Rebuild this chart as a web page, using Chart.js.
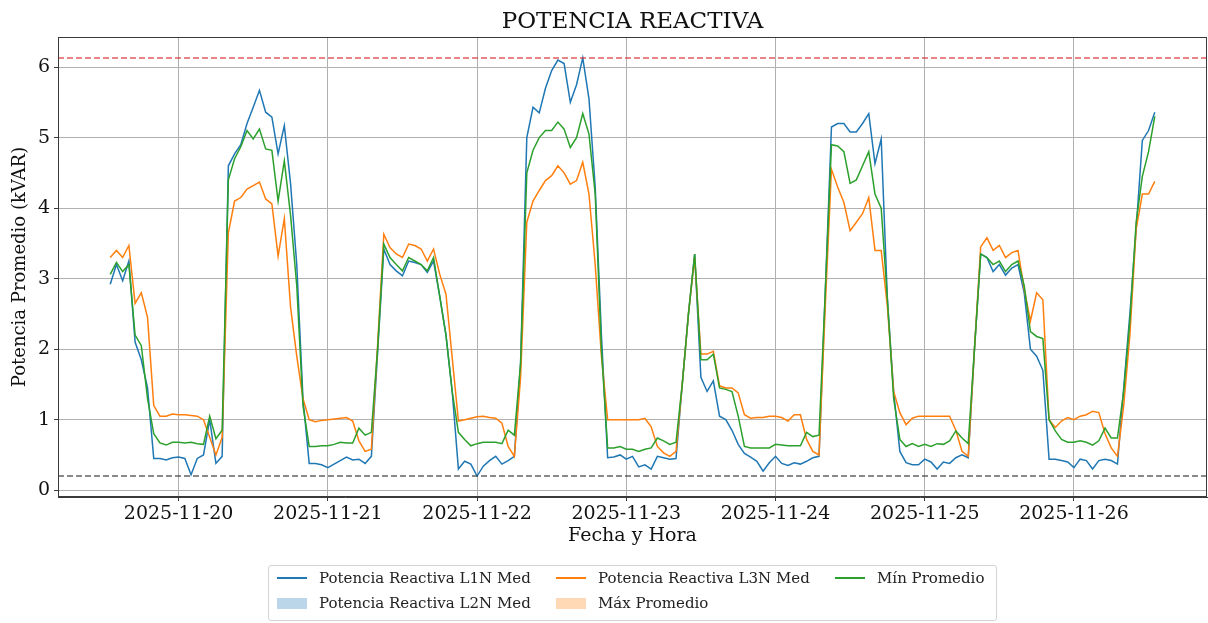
<!DOCTYPE html>
<html>
<head>
<meta charset="utf-8">
<title>Potencia reactiva</title>
<script src="https://cdn.jsdelivr.net/npm/chart.js@4.4.1/dist/chart.umd.min.js"></script>
<style>
  html, body { margin: 0; padding: 0; background: #fff; }
  #wrap { position: relative; width: 1208px; height: 623px; }
  #legend {
    position: absolute; left: 268px; top: 565px; width: 729px; height: 56px;
    border: 1px solid #d4d4d4; border-radius: 3px; box-sizing: border-box;
    font-family: 'DejaVu Serif', serif; font-size: 15px; color: #222;
  }
  .item { position: absolute; height: 16px; display: flex; align-items: center; white-space: nowrap; }
  .line { width: 30px; height: 1.6px; margin-right: 12px; }
  .patch { width: 30px; height: 11px; margin-right: 12px; }
</style>
</head>
<body>
<div id="wrap">
  <canvas id="chart" width="1208" height="623"></canvas>
  <div id="legend"></div>
</div>
<script>
// hourly readings, first one at 2025-11-19 13:00
const inicio = '2025-11-19T13:00';
const fechas = ['2025-11-20', '2025-11-21', '2025-11-22', '2025-11-23', '2025-11-24', '2025-11-25', '2025-11-26'];
const yTicks = [0, 1, 2, 3, 4, 5, 6];

const l1n = [
  2.92, 3.2, 2.97, 3.25, 2.1, 1.85, 1.45, 0.45, 0.45, 0.43, 0.46,
  0.47, 0.45, 0.22, 0.45, 0.5, 1.0, 0.38, 0.48, 4.6, 4.77,
  4.9, 5.2, 5.43, 5.67, 5.36, 5.29, 4.77, 5.17, 4.35, 3.2,
  1.3, 0.38, 0.38, 0.36, 0.32, 0.37, 0.42, 0.47, 0.43, 0.44,
  0.38, 0.48, 1.95, 3.42, 3.2, 3.11, 3.04, 3.25, 3.23, 3.2,
  3.09, 3.25, 2.75, 2.2, 1.4, 0.3, 0.41, 0.37, 0.2, 0.34,
  0.42, 0.48, 0.37, 0.42, 0.48, 1.8, 5.0, 5.43, 5.35, 5.7,
  5.95, 6.1, 6.05, 5.5, 5.75, 6.13, 5.55, 4.3, 2.2, 0.46,
  0.47, 0.5, 0.44, 0.48, 0.33, 0.36, 0.3, 0.48, 0.46, 0.44,
  0.45, 1.5, 2.5, 3.35, 1.6, 1.4, 1.55, 1.05, 1.0, 0.85,
  0.65, 0.52, 0.47, 0.41, 0.27, 0.39, 0.48, 0.38, 0.35, 0.39,
  0.37, 0.41, 0.46, 0.48, 2.8, 5.15, 5.2, 5.2, 5.08, 5.08,
  5.2, 5.34, 4.63, 4.98, 2.7, 1.4, 0.55, 0.39, 0.36, 0.36,
  0.44, 0.4, 0.3, 0.4, 0.38, 0.46, 0.5, 0.46, 2.0, 3.35,
  3.3, 3.1, 3.2, 3.05, 3.15, 3.2, 2.8, 2.0, 1.9, 1.7,
  0.44, 0.44, 0.42, 0.4, 0.32, 0.44, 0.42, 0.3, 0.42, 0.44,
  0.42, 0.37, 1.45, 2.5, 3.7, 4.96, 5.1, 5.36
];

const l3n = [
  3.3, 3.4, 3.3, 3.47, 2.65, 2.8, 2.45, 1.2, 1.05, 1.05, 1.08,
  1.07, 1.07, 1.06, 1.05, 1.0, 0.75, 0.5, 0.75, 3.65, 4.1,
  4.15, 4.27, 4.32, 4.37, 4.13, 4.06, 3.32, 3.85, 2.6, 1.9,
  1.3, 1.0, 0.97, 0.99, 1.0, 1.01, 1.02, 1.03, 0.98, 0.7,
  0.55, 0.58, 2.05, 3.63, 3.44, 3.35, 3.3, 3.49, 3.47, 3.42,
  3.25, 3.42, 3.06, 2.78, 1.88, 0.98, 1.0, 1.02, 1.04, 1.05,
  1.03, 1.02, 0.95, 0.62, 0.48, 1.6, 3.8, 4.1, 4.25, 4.39,
  4.46, 4.6, 4.5, 4.34, 4.39, 4.65, 4.2, 3.2, 1.9, 1.0,
  1.0, 1.0, 1.0, 1.0, 1.0, 1.02, 0.9, 0.62, 0.53, 0.48,
  0.55, 1.5, 2.5, 3.3, 1.93, 1.93, 1.97, 1.48, 1.45, 1.45,
  1.38, 1.07, 1.02, 1.03, 1.03, 1.05, 1.05, 1.03, 0.98, 1.07,
  1.07, 0.72, 0.55, 0.5, 2.6, 4.55, 4.3, 4.08, 3.68, 3.8,
  3.92, 4.15, 3.4, 3.4, 2.6, 1.4, 1.1, 0.93, 1.02, 1.05,
  1.05, 1.05, 1.05, 1.05, 1.05, 0.85, 0.55, 0.48, 2.0, 3.45,
  3.58, 3.4, 3.47, 3.3, 3.37, 3.4, 2.85, 2.4, 2.8, 2.7,
  1.0, 0.89, 0.98, 1.03, 1.0, 1.05, 1.07, 1.12, 1.1, 0.8,
  0.6, 0.48, 1.2, 2.2, 3.7, 4.2, 4.2, 4.38
];

const minProm = [
  3.06, 3.23, 3.1, 3.2, 2.2, 2.05, 1.3, 0.8, 0.67, 0.64, 0.68,
  0.68, 0.67, 0.68, 0.66, 0.65, 1.05, 0.73, 0.85, 4.4, 4.7,
  4.87, 5.1, 4.98, 5.12, 4.84, 4.82, 4.1, 4.67, 3.9, 2.9,
  1.2, 0.62, 0.62, 0.63, 0.63, 0.65, 0.68, 0.67, 0.67, 0.88,
  0.78, 0.82, 2.0, 3.49, 3.3, 3.2, 3.11, 3.3, 3.25, 3.2,
  3.11, 3.3, 2.75, 2.2, 1.4, 0.82, 0.72, 0.63, 0.66, 0.68,
  0.68, 0.68, 0.66, 0.85, 0.78, 1.8, 4.5, 4.82, 5.0, 5.1,
  5.1, 5.22, 5.12, 4.86, 5.0, 5.34, 5.05, 4.2, 2.0, 0.6,
  0.6, 0.62, 0.58, 0.58, 0.55, 0.58, 0.6, 0.74, 0.7, 0.65,
  0.68, 1.5, 2.5, 3.35, 1.85, 1.85, 1.93, 1.45, 1.43, 1.4,
  1.05, 0.62, 0.6, 0.6, 0.6, 0.6, 0.65, 0.64, 0.63, 0.63,
  0.63, 0.82, 0.76, 0.78, 2.8, 4.9, 4.88, 4.8, 4.35, 4.4,
  4.6, 4.8, 4.2, 4.0, 2.7, 1.3, 0.72, 0.62, 0.66, 0.62,
  0.65, 0.62, 0.66, 0.65, 0.7, 0.84, 0.74, 0.66, 2.0, 3.35,
  3.3, 3.2, 3.25, 3.1, 3.2, 3.25, 2.9, 2.25, 2.18, 2.15,
  1.0, 0.84, 0.72, 0.68, 0.68, 0.7, 0.68, 0.64, 0.7, 0.88,
  0.74, 0.74, 1.4, 2.4, 3.8, 4.45, 4.8, 5.3
];

const AZUL = '#1f77b4', NARANJA = '#ff7f0e', VERDE = '#2ca02c';
const serif = "'DejaVu Serif', serif";
const TITULO = 'POTENCIA REACTIVA';

// x axis is measured in days from the first date label
const dia0 = Date.parse(fechas[0] + 'T00:00');
const t0 = (Date.parse(inicio) - dia0) / 86400000;
const serie = vals => vals.map((v, i) => ({ x: t0 + i / 24, y: v }));

const xFin = t0 + (l1n.length - 1) / 24;
const margenX = (xFin - t0) * 0.05;
const xMin = t0 - margenX, xMax = xFin + margenX;

const maximo = Math.max(...l1n, ...l3n, ...minProm);
const minimo = Math.min(...l1n, ...l3n, ...minProm);
const margenY = (maximo - minimo) * 0.05;

const lineaH = (y, color) => ({
  data: [{ x: xMin, y: y }, { x: xMax, y: y }],
  borderColor: color, borderWidth: 1.5, borderDash: [6, 3],
  pointRadius: 0, order: 0
});

// axes frame on all four sides, and the title centred over the plot area
const marco = {
  id: 'marco',
  afterDraw(chart) {
    const { ctx, chartArea: a } = chart;
    ctx.save();
    ctx.strokeStyle = '#3a3a3a';
    ctx.lineWidth = 1;
    ctx.strokeRect(a.left + 0.5, a.top + 0.5, a.right - a.left - 1, a.bottom - a.top - 1);
    ctx.fillStyle = '#111';
    ctx.font = '23px ' + serif;
    ctx.textAlign = 'center';
    ctx.textBaseline = 'alphabetic';
    ctx.fillText(TITULO, (a.left + a.right) / 2, a.top - 9);
    ctx.restore();
  }
};

const chart = new Chart(document.getElementById('chart'), {
  type: 'line',
  data: {
    datasets: [
      { label: 'Potencia Reactiva L1N Med', data: serie(l1n), borderColor: AZUL, order: 3 },
      { label: 'Potencia Reactiva L3N Med', data: serie(l3n), borderColor: NARANJA, order: 2 },
      { label: 'Mín Promedio', data: serie(minProm), borderColor: VERDE, order: 1 },
      lineaH(maximo, 'rgba(214,39,40,0.75)'),
      lineaH(minimo, 'rgba(60,60,60,0.8)')
    ]
  },
  options: {
    responsive: false,
    animation: false,
    devicePixelRatio: 1,
    layout: { padding: { left: 0, right: 1, top: 37, bottom: 66 } },
    elements: {
      line: { borderWidth: 1.5, tension: 0 },
      point: { radius: 0 }
    },
    plugins: {
      legend: { display: false },
      tooltip: { enabled: false },
      title: { display: false }
    },
    scales: {
      x: {
        type: 'linear',
        min: xMin,
        max: xMax,
        afterFit(scale) { scale.height = 60; },
        afterBuildTicks(scale) { scale.ticks = fechas.map((f, k) => ({ value: k })); },
        ticks: {
          color: '#111',
          font: { family: serif, size: 19 },
          padding: 2,
          maxRotation: 0,
          autoSkip: false,
          callback: v => fechas[v]
        },
        grid: { color: '#b0b0b0', lineWidth: 1, tickLength: 4, tickColor: '#3a3a3a' },
        border: { color: '#3a3a3a' },
        title: {
          display: true,
          text: 'Fecha y Hora',
          color: '#111',
          font: { family: serif, size: 19 },
          padding: { top: 0, bottom: 10 }
        }
      },
      y: {
        min: minimo - margenY,
        max: maximo + margenY,
        afterFit(scale) { scale.width = 58; },
        afterBuildTicks(scale) { scale.ticks = yTicks.map(v => ({ value: v })); },
        ticks: {
          color: '#111',
          font: { family: serif, size: 19 },
          padding: 4,
          callback: v => v
        },
        grid: { color: '#b0b0b0', lineWidth: 1, tickLength: 4, tickColor: '#3a3a3a' },
        border: { color: '#3a3a3a' },
        title: {
          display: true,
          text: 'Potencia Promedio (kVAR)',
          color: '#111',
          font: { family: serif, size: 18 },
          padding: { top: 10, bottom: 0 }
        }
      }
    }
  },
  plugins: [marco]
});

// legend laid out in matplotlib's column order (3 columns, 2 rows)
const leyenda = [
  { texto: 'Potencia Reactiva L1N Med', tipo: 'line', color: AZUL, col: 0, fila: 0 },
  { texto: 'Potencia Reactiva L2N Med', tipo: 'patch', color: 'rgba(31,119,180,0.3)', col: 0, fila: 1 },
  { texto: 'Potencia Reactiva L3N Med', tipo: 'line', color: NARANJA, col: 1, fila: 0 },
  { texto: 'Máx Promedio', tipo: 'patch', color: 'rgba(255,127,14,0.3)', col: 1, fila: 1 },
  { texto: 'Mín Promedio', tipo: 'line', color: VERDE, col: 2, fila: 0 }
];
const colX = [8, 287, 566];
const filaY = [4, 29];
const caja = document.getElementById('legend');
leyenda.forEach(it => {
  const d = document.createElement('div');
  d.className = 'item';
  d.style.left = colX[it.col] + 'px';
  d.style.top = filaY[it.fila] + 'px';
  const h = document.createElement('span');
  h.className = it.tipo;
  h.style.background = it.color;
  const t = document.createElement('span');
  t.textContent = it.texto;
  d.appendChild(h);
  d.appendChild(t);
  caja.appendChild(d);
});
</script>
</body>
</html>
